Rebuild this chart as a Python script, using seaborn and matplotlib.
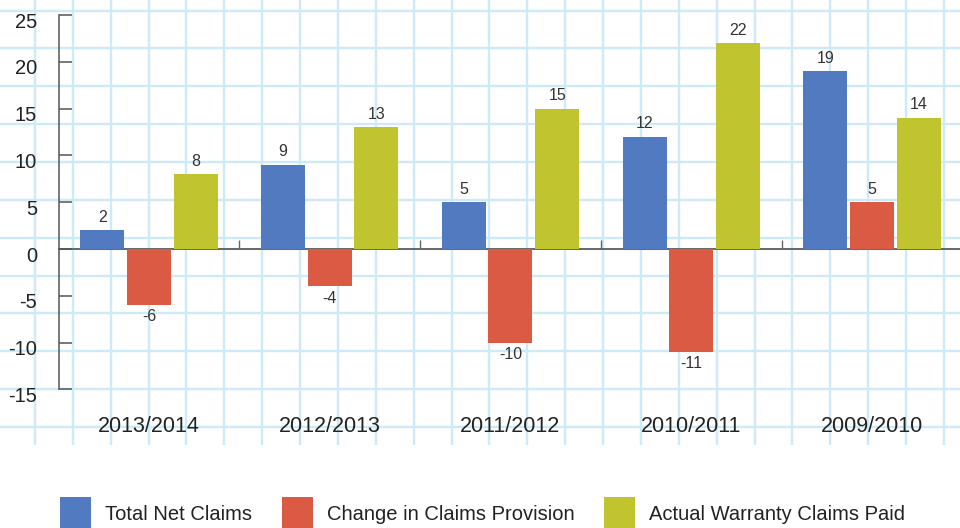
import numpy as np
import pandas as pd
import seaborn as sns
import matplotlib.pyplot as plt
import matplotlib.transforms as mtransforms

plt.rcParams['font.family'] = ['Liberation Sans', 'DejaVu Sans']
plt.rcParams['axes.unicode_minus'] = False

# chart data
years = ['2013/2014', '2012/2013', '2011/2012', '2010/2011', '2009/2010']
series = ['Total Net Claims', 'Change in Claims Provision', 'Actual Warranty Claims Paid']
total_net = [2, 9, 5, 12, 19]
change_provision = [-6, -4, -10, -11, 5]
warranty_paid = [8, 13, 15, 22, 14]
colors = ['#527ac0', '#db5a43', '#bfc42f']

df = pd.DataFrame({
    'Year': years * 3,
    'Series': [s for s in series for _ in years],
    'Value': total_net + change_provision + warranty_paid,
})

fig = plt.figure(figsize=(9.6, 5.28), dpi=100)

# graph paper background (pixel space)
bg = fig.add_axes([0, 0, 1, 1], zorder=-1)
bg.set_xlim(0, 960)
bg.set_ylim(528, 0)
bg.axis('off')
step = 37.87
bg.vlines(np.arange(35, 960, step), 0, 445, color='#cdeaf8', lw=1.7)
bg.hlines(np.arange(10.5, 440, step), 0, 960, color='#cdeaf8', lw=1.7)

ax = fig.add_axes([58.6 / 960, (528 - 389.4) / 528, 903.75 / 960, (389.4 - 15) / 528])
ax.set_facecolor('none')

sns.barplot(data=df, x='Year', y='Value', hue='Series', order=years, hue_order=series,
            palette=colors, saturation=1, width=0.775, gap=0.057, errorbar=None, ax=ax)

ax.set_ylim(-15, 25)
ax.set_xlim(-0.5, len(years) - 0.5)
ax.set_xlabel('')
ax.set_ylabel('')

# axis styling
for side in ['top', 'right']:
    ax.spines[side].set_visible(False)
ax.spines['left'].set_bounds(-15, 25)
ax.spines['left'].set_color('#555555')
ax.spines['left'].set_linewidth(1.1)
ax.spines['bottom'].set_position(('data', 0))
ax.spines['bottom'].set_color('#666666')
ax.spines['bottom'].set_linewidth(1.4)
ax.spines['bottom'].set_zorder(0.5)

ax.set_yticks(range(-15, 30, 5))
ax.tick_params(axis='y', direction='in', length=9.4, width=1.1, color='#555555',
               pad=15.5, labelsize=14.5, labelcolor='#222222')
# labels sit a little below their ticks in the original
shift = mtransforms.ScaledTranslation(0, -5 / 100, fig.dpi_scale_trans)
for lbl in ax.get_yticklabels():
    lbl.set_transform(lbl.get_transform() + shift)

ax.set_xticks([])
ax.set_xticks(np.arange(0.5, len(years) - 1, 1), minor=True)
ax.tick_params(axis='x', which='minor', direction='in', length=6.5, width=1.0, color='#666666')

# category labels below the plot
sec = ax.secondary_xaxis('bottom')
sec.set_xticks(range(len(years)), labels=years)
sec.tick_params(length=0, pad=19, labelsize=15.5, labelcolor='#222222')
for sp in sec.spines.values():
    sp.set_visible(False)

for container in ax.containers:
    texts = ax.bar_label(container, fmt='%g', padding=4, fontsize=11.5, color='#333333')
    for t, v in zip(texts, container.datavalues):
        if v < 0:
            t.xyann = (0, -3)

handles, labels = ax.get_legend_handles_labels()
ax.get_legend().remove()
fig.legend(handles, labels, loc='center left', bbox_to_anchor=(60 / 960, 14 / 528),
           ncol=3, frameon=False, fontsize=14.5, labelcolor='#222222',
           handlelength=1.55, handleheight=2.2, handletextpad=0.7,
           columnspacing=1.45, borderpad=0, borderaxespad=0)

fig.savefig('out.png', dpi=100)
